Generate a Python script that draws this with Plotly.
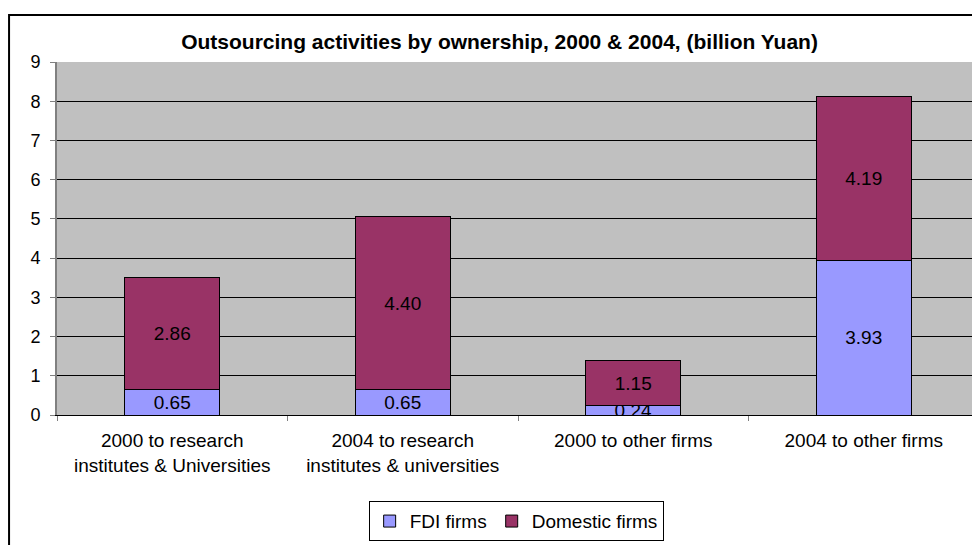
import plotly.graph_objects as go

categories = [
    "2000 to research<br>institutes & Universities",
    "2004 to research<br>institutes & universities",
    "2000 to other firms",
    "2004 to other firms",
]
fdi_firms = [0.65, 0.65, 0.24, 3.93]
domestic_firms = [2.86, 4.40, 1.15, 4.19]
y_ticks = [0, 1, 2, 3, 4, 5, 6, 7, 8, 9]

FONT = "Liberation Sans, Arial, sans-serif"

fig = go.Figure()

# stacked bars, FDI at the bottom
fig.add_trace(go.Bar(
    x=categories, y=fdi_firms, name="FDI firms",
    marker=dict(color="#9999FF", line=dict(color="black", width=1)),
    text=[f"{v:.2f}" for v in fdi_firms], textposition="inside",
    insidetextanchor="middle", constraintext="none",
    insidetextfont=dict(color="black", size=19, family=FONT),
    width=0.412,
))
fig.add_trace(go.Bar(
    x=categories, y=domestic_firms, name="Domestic firms",
    marker=dict(color="#993366", line=dict(color="black", width=1)),
    text=[f"{v:.2f}" for v in domestic_firms], textposition="inside",
    insidetextanchor="middle", constraintext="none",
    insidetextfont=dict(color="black", size=19, family=FONT),
    width=0.412,
))

# outer chart frame (Excel style)
fig.add_shape(type="rect", xref="paper", yref="paper",
              x0=-0.052, x1=1.2, y0=-0.6, y1=1.133,
              line=dict(color="black", width=2), layer="below")

fig.update_layout(
    barmode="stack",
    width=980, height=545,
    margin=dict(l=49, r=9, t=54, b=138, autoexpand=False),
    paper_bgcolor="white",
    plot_bgcolor="#C0C0C0",
    font=dict(family=FONT, size=18, color="black"),
    title=dict(
        text="<b>Outsourcing activities by ownership, 2000 & 2004, (billion Yuan)</b>",
        x=0.48, xref="paper", xanchor="center",
        y=0.9376, yanchor="middle",
        font=dict(size=21, family=FONT, color="black"),
    ),
    legend=dict(
        orientation="h", x=0.498, xanchor="center",
        y=0.095, yref="container", yanchor="top",
        bordercolor="black", borderwidth=1, bgcolor="white",
        font=dict(size=19), traceorder="normal",
    ),
    showlegend=True,
)

fig.update_xaxes(
    showline=True, linecolor="black", linewidth=1, mirror=False,
    ticks="outside", tickson="boundaries", ticklen=5, tickcolor="#808080",
    tickfont=dict(size=19), ticklabelstandoff=8, automargin=False,
)
fig.update_yaxes(
    range=[0, 9], tickvals=y_ticks,
    showgrid=True, gridcolor="black", gridwidth=1,
    showline=True, linecolor="#808080", linewidth=2, mirror=True,
    ticks="outside", ticklen=5, tickcolor="#808080",
    tickfont=dict(size=18), zeroline=False, ticklabelstandoff=6,
    automargin=False,
)

fig.write_html("out.html")
